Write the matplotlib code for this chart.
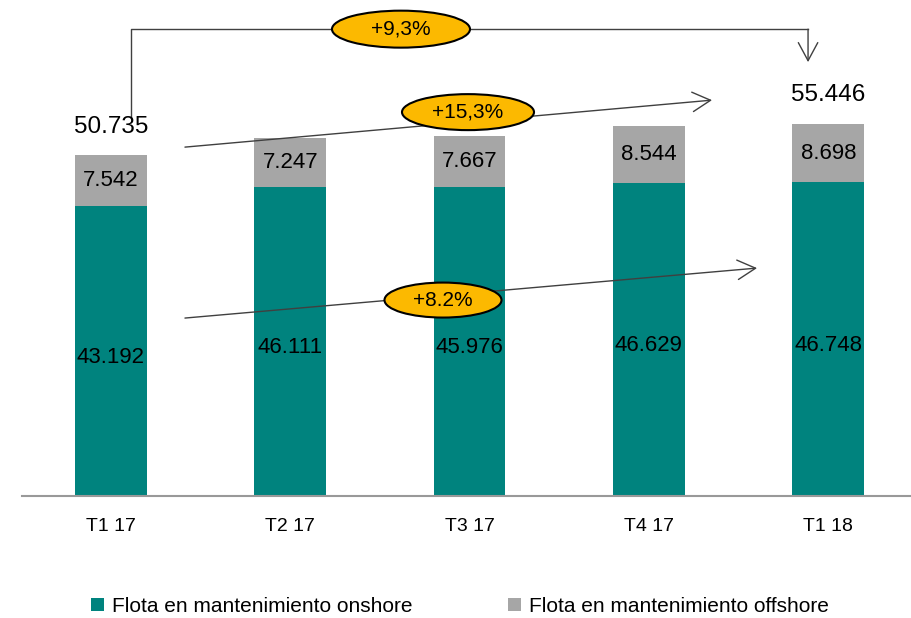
import matplotlib
matplotlib.use("Agg")
from matplotlib import pyplot as plt
from matplotlib.patches import Ellipse, Patch

quarters = ["T1 17", "T2 17", "T3 17", "T4 17", "T1 18"]
onshore = [43.192, 46.111, 45.976, 46.629, 46.748]
offshore = [7.542, 7.247, 7.667, 8.544, 8.698]
totals = {0: "50.735", 4: "55.446"}
growth_total = "+9,3%"
growth_offshore = "+15,3%"
growth_onshore = "+8.2%"

teal = "#00837E"
gray = "#A6A6A6"
gold = "#FCB900"
line_c = "#404040"

plt.rcParams["font.family"] = ["Liberation Sans", "DejaVu Sans"]

fig = plt.figure(figsize=(9.12, 6.18), dpi=100)
ax = fig.add_axes([22 / 912, 122 / 618, 890 / 912, 496 / 618])

x = list(range(len(quarters)))
ax.bar(x, onshore, width=0.40, color=teal)
ax.bar(x, offshore, width=0.40, bottom=onshore, color=gray)

ax.set_xlim(-0.496, 4.467)
ax.set_ylim(0, 73.9)

for i in x:
    ax.text(i, onshore[i] / 2 - 0.9, f"{onshore[i]:.3f}", ha="center", va="center", fontsize=16)
    ax.text(i, onshore[i] + offshore[i] / 2, f"{offshore[i]:.3f}", ha="center", va="center", fontsize=16)
for i, lab in totals.items():
    ax.text(i, onshore[i] + offshore[i] + 4.3, lab, ha="center", va="center", fontsize=17.5)

for s in ["top", "right", "left"]:
    ax.spines[s].set_visible(False)
ax.spines["bottom"].set_color("#999999")
ax.spines["bottom"].set_linewidth(1.5)
ax.set_yticks([])
ax.set_xticks(x)
ax.set_xticklabels(quarters, fontsize=14)
ax.tick_params(axis="x", length=0, pad=16)


def px(xp, yp):
    return ((xp - 111) / 179.3, (496 - yp) / 6.714)


arrow = dict(arrowstyle="->,head_length=1.3,head_width=0.7", color=line_c, lw=1, shrinkA=0, shrinkB=0)

# top bracket
p1, p2, p3, p4 = px(131, 117), px(131, 29), px(808, 29), px(808, 62)
ax.plot([p1[0], p2[0], p3[0]], [p1[1], p2[1], p3[1]], color=line_c, lw=1, clip_on=False)
ax.annotate("", xy=p4, xytext=p3, arrowprops=arrow, annotation_clip=False)

# trend arrows
ax.annotate("", xy=px(712, 100), xytext=px(185, 147), arrowprops=arrow, annotation_clip=False)
ax.annotate("", xy=px(757, 268), xytext=px(185, 318), arrowprops=arrow, annotation_clip=False)


def bubble(cx, cy, w, h, txt):
    c = px(cx, cy)
    ax.add_patch(Ellipse(c, w / 179.3, h / 6.714, facecolor=gold, edgecolor="black", lw=1.5, clip_on=False, zorder=5))
    ax.text(c[0], c[1], txt, ha="center", va="center", fontsize=15, zorder=6)


bubble(401, 29, 138, 37, growth_total)
bubble(468, 112, 132, 36, growth_offshore)
bubble(443, 300, 117, 35, growth_onshore)

handles = [Patch(facecolor=teal, label="Flota en mantenimiento onshore"),
           Patch(facecolor=gray, label="Flota en mantenimiento offshore")]
fig.legend(handles=handles, loc="center", bbox_to_anchor=(460 / 912, 1 - 606 / 618), ncol=2,
           frameon=False, handlelength=0.6, handleheight=0.6, handletextpad=0.4, columnspacing=4.6,
           prop={"size": 15})

fig.savefig("out.png", dpi=100)
